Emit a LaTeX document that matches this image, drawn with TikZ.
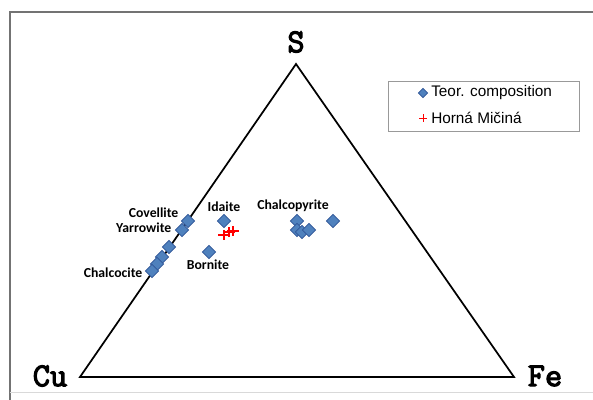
\documentclass[tikz,border=0pt]{standalone}
\usepackage{fontspec}
\setmainfont{Liberation Sans}
\newfontfamily\calib{Carlito}
\newfontfamily\vfont[FakeBold=3.5]{Latin Modern Mono}
\begin{document}
\begin{tikzpicture}[x=0.75pt,y=-0.75pt,
  vert/.style={font=\vfont\fontsize{25}{27}\selectfont},
  mlab/.style={font=\calib\bfseries\fontsize{10.3}{12}\selectfont},
  crs/.style={red, line width=1pt},
  leg/.style={font=\fontsize{11.5}{13}\selectfont, anchor=west, inner sep=0pt}]
\useasboundingbox (0,0) rectangle (593,400);
\definecolor{dfill}{HTML}{4F81BD}
\definecolor{dline}{HTML}{2F5597}
\tikzset{dia/.style={draw=dline, fill=dfill, line width=0.5pt, minimum size=7pt, inner sep=0pt, rotate=45}}
% frame
\draw[gray!90!black, line width=1pt] (10,400) -- (10,12) -- (593,12);
\draw[gray!30, line width=0.6pt] (10,392) -- (593,392);
% triangle
\coordinate (S) at (296,64);
\coordinate (Cu) at (80,377);
\coordinate (Fe) at (514,377);
\draw[line width=1.3pt, line join=miter] (Cu) -- (S) -- (Fe) -- cycle;
\node[vert] (lS) at (296,42) {S};
\node[vert] (lCu) at (50,376) {Cu};
\node[vert] (lFe) at (545,376) {Fe};
% diamonds
\node[dia] (d1) at (188,221) {};
\node[dia] (d2) at (182,230) {};
\node[dia] (d3) at (169,247) {};
\node[dia] (d4) at (162,257) {};
\node[dia] (d5) at (157,264) {};
\node[dia] (d6) at (152,271) {};
\node[dia] (di) at (224,221) {};
\node[dia] (db) at (209,252) {};
\node[dia] (c1) at (297,221) {};
\node[dia] (c2) at (297,230) {};
\node[dia] (c3) at (302,232) {};
\node[dia] (c4) at (309,230) {};
\node[dia] (c5) at (333,221) {};
% crosses
\foreach \x/\y in {224/235,229/232,233/231}{
  \draw[crs] (\x-6,\y) -- (\x+6,\y) (\x,\y-5) -- (\x,\y+5);
}
% labels
\node[mlab, anchor=east] (tcov) at (183,213) {Covellite};
\node[mlab, anchor=east] (tyar) at (176,228) {Yarrowite};
\node[mlab, anchor=east] (tchc) at (147,273) {Chalcocite};
\node[mlab] (tida) at (224,207) {Idaite};
\node[mlab] (tbor) at (208,265) {Bornite};
\node[mlab] (tcha) at (293,206) {Chalcopyrite};
% legend
\draw[gray!80, line width=0.6pt] (388,81) rectangle (579,131);
\node[dia, minimum size=5pt] (ld) at (423,93) {};
\draw[crs, line width=0.6pt] (419,118) -- (427,118) (423,114) -- (423,122);
\node[leg] (lt1) at (431,93) {Teor. composition};
\node[leg] (lt2) at (431,118) {Horná Mičiná};
\end{tikzpicture}
\end{document}
